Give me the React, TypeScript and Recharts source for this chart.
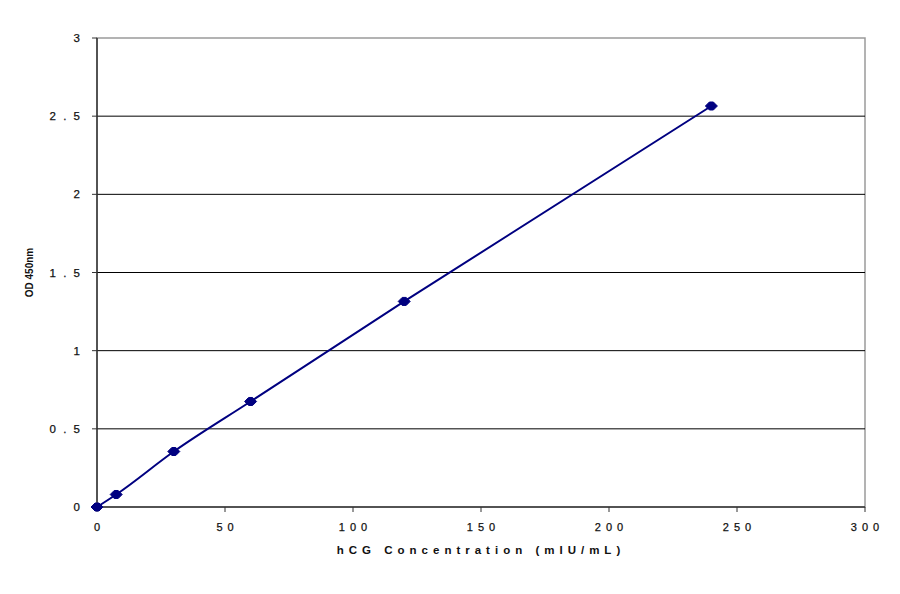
import React from 'react';
import {
  LineChart,
  Line,
  XAxis,
  YAxis,
  ReferenceLine,
  ReferenceArea,
} from 'recharts';

const concentrations = [0, 7.5, 30, 60, 120, 240];
const odValues = [0, 0.08, 0.355, 0.675, 1.315, 2.565];
const xTicks = [0, 50, 100, 150, 200, 250, 300];
const yTicks = [0, 0.5, 1, 1.5, 2, 2.5, 3];
const gridValues = [0.5, 1, 1.5, 2, 2.5];

const data = concentrations.map((c, i) => ({ conc: c, od: odValues[i] }));

const FONT = 'Arial, "Liberation Sans", sans-serif';
const NAVY = '#000080';

function Diamond(props: any) {
  const { cx, cy } = props;
  if (cx == null || cy == null) return null;
  return (
    <path
      d={`M${cx - 6},${cy} L${cx - 2},${cy - 4} L${cx + 2},${cy - 4} L${cx + 6},${cy} L${cx + 2},${cy + 4} L${cx - 2},${cy + 4} Z`}
      fill={NAVY}
      stroke={NAVY}
      strokeWidth={1}
    />
  );
}

function XTick({ x, y, payload }: any) {
  return (
    <text
      x={x + 2.5}
      y={y + 13}
      textAnchor="middle"
      fontFamily={FONT}
      fontSize={11}
      fill="#111"
      stroke="#111"
      strokeWidth={0.25}
      letterSpacing={5}
    >
      {payload.value}
    </text>
  );
}

function YTick({ x, y, payload }: any) {
  const label = String(payload.value).split('').join(' ');
  return (
    <text
      x={x}
      y={y + 4}
      textAnchor="end"
      fontFamily={FONT}
      fontSize={11.5}
      fill="#111"
      stroke="#111"
      strokeWidth={0.25}
      letterSpacing={2}
    >
      {label}
    </text>
  );
}

export default function App() {
  return (
    <div style={{ position: 'absolute', left: 0, top: 0, width: 900, height: 594, background: '#fff' }}>
      <LineChart width={900} height={594} data={data} margin={{ top: 38, right: 35, left: 37, bottom: 57 }}>
        <ReferenceArea x1={0} x2={300} y1={0} y2={3} fill="none" stroke="#9a9a9a" strokeWidth={1.5} ifOverflow="visible" />
        {gridValues.map((v) => (
          <ReferenceLine key={v} y={v} stroke="#000" strokeWidth={1} />
        ))}
        <XAxis
          type="number"
          dataKey="conc"
          domain={[0, 300]}
          ticks={xTicks}
          interval={0}
          height={30}
          tickSize={5}
          tickMargin={6}
          axisLine={{ stroke: '#333', strokeWidth: 1.5 }}
          tickLine={{ stroke: '#333' }}
          tick={<XTick />}
          label={{
            value: 'hCG Concentration (mIU/mL)',
            position: 'insideBottom',
            offset: -17,
            style: { fontFamily: FONT, fontSize: 11.5, fontWeight: 700, letterSpacing: 5, fill: '#111' },
          }}
        />
        <YAxis
          type="number"
          domain={[0, 3]}
          ticks={yTicks}
          interval={0}
          width={60}
          tickSize={5}
          tickMargin={10}
          axisLine={{ stroke: '#333', strokeWidth: 1.5 }}
          tickLine={{ stroke: '#333' }}
          tick={<YTick />}
          label={{
            value: 'OD 450nm',
            angle: -90,
            position: 'insideLeft',
            offset: -8,
            style: { fontFamily: FONT, fontSize: 10, fontWeight: 700, fill: '#111', textAnchor: 'middle' },
          }}
        />
        <Line
          type="monotone"
          dataKey="od"
          stroke={NAVY}
          strokeWidth={2}
          dot={<Diamond />}
          activeDot={false}
          isAnimationActive={false}
        />
      </LineChart>
    </div>
  );
}
